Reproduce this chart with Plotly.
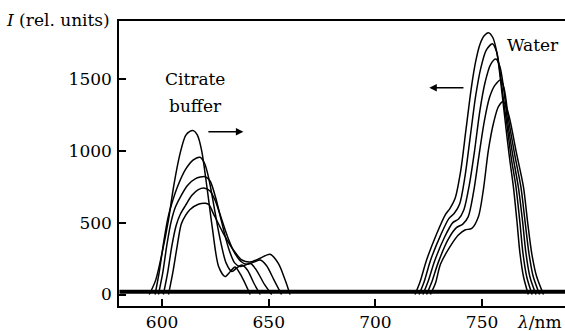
import plotly.graph_objects as go

# ---- Data ----
# Citrate buffer spectra (wavelength nm, intensity rel. units)
cit_a_x = [594, 597, 600, 603, 605.5, 608.5, 611, 613, 614.7, 616.5, 618.5, 621, 623.5, 626.5, 629.5, 632, 634.2, 637.5, 641.3]
cit_a_y = [0, 100, 290, 520, 760, 985, 1105, 1135, 1140, 1110, 1005, 750, 470, 195, 125, 160, 192, 120, 0]

cit_b_x = [596.7, 598.7, 600.7, 602.7, 604.7, 607.5, 611, 614.5, 617.8, 620, 622, 624.5, 627, 630, 632.7, 635, 637.4, 640, 643, 646]
cit_b_y = [0, 160, 360, 530, 640, 760, 870, 935, 955, 910, 800, 600, 400, 220, 160, 185, 205, 170, 80, 0]

cit_c_x = [598.3, 600.3, 602.3, 604.3, 606.3, 609, 612, 615.5, 620.2, 622.5, 625, 628, 631, 634, 636.6, 639, 641.3, 644, 648, 651.4]
cit_c_y = [0, 150, 350, 510, 610, 690, 760, 805, 820, 790, 680, 500, 330, 220, 195, 205, 217, 175, 70, 0]

cit_d_x = [600.6, 602.6, 604.6, 606.6, 608.6, 611, 614, 617, 620, 622.5, 625, 628, 631, 634, 637, 639.7, 643, 646, 649, 652.5, 656]
cit_d_y = [0, 150, 340, 480, 560, 620, 690, 730, 740, 720, 650, 520, 390, 290, 230, 210, 225, 240, 200, 100, 0]

cit_e_x = [603, 605, 607, 609, 611, 613, 617, 620.3, 622, 624, 628.7, 633.4, 637.4, 641.3, 646, 650.6, 654.5, 657.7, 660]
cit_e_y = [0, 150, 330, 490, 550, 590, 628, 635, 625, 565, 426, 310, 240, 226, 252, 280, 217, 101, 0]

# Water spectra
wat_1_x = [718.6, 721, 724, 728.8, 732.7, 735, 737.4, 740, 742.5, 745, 747, 749, 751, 753, 755, 757, 759, 760.8, 762.8, 764.7, 766.3, 767.8, 769.5, 771.7]
wat_1_y = [0, 90, 240, 425, 553, 600, 670, 860, 1150, 1440, 1620, 1740, 1800, 1822, 1790, 1680, 1450, 1214, 960, 750, 520, 286, 120, 0]

wat_2_x = [720.5, 722.9, 725.9, 730.5, 734.5, 737, 739.5, 742, 744.5, 747, 749.5, 752, 754.9, 756.8, 758.6, 760.5, 761.4, 763.6, 765.9, 767.7, 769.2, 771, 773.5]
wat_2_y = [0, 90, 240, 410, 530, 565, 630, 820, 1100, 1380, 1580, 1700, 1745, 1690, 1530, 1300, 1214, 960, 750, 510, 286, 120, 0]

wat_3_x = [722.3, 724.7, 727.7, 732.3, 736.3, 739, 741.5, 744, 746.5, 749, 751.5, 754, 756.5, 758.3, 760, 761.9, 764.4, 767, 769, 770.6, 772.5, 775.3]
wat_3_y = [0, 90, 230, 395, 500, 525, 590, 760, 1000, 1280, 1480, 1600, 1638, 1590, 1450, 1214, 970, 750, 510, 286, 120, 0]

wat_4_x = [724, 726.4, 729.4, 734, 738, 741, 743.5, 746, 748.5, 751, 753.5, 756, 758.8, 760.4, 762.5, 765.3, 768.2, 770.2, 772, 774, 777]
wat_4_y = [0, 85, 220, 380, 465, 490, 540, 710, 960, 1200, 1370, 1455, 1493, 1430, 1214, 975, 750, 505, 286, 125, 0]

wat_5_x = [725.8, 728.2, 730.5, 735, 738.9, 742, 745.2, 748.3, 750.6, 753, 755.5, 757.7, 760, 761.5, 763.1, 766.2, 769.4, 771.4, 773.3, 775.5, 778.8]
wat_5_y = [0, 80, 210, 333, 414, 449, 460, 541, 727, 1006, 1200, 1307, 1342, 1300, 1214, 980, 750, 500, 286, 130, 0]

# Noisy baseline
base_x = [580, 789]
base_y = [20, 20]

x_ticks = [600, 650, 700, 750]
y_ticks = [0, 500, 1000, 1500]

FONT = "DejaVu Serif"
FS = 17

fig = go.Figure()

fig.add_trace(go.Scatter(x=base_x, y=base_y, mode="lines",
                         line=dict(color="black", width=4), hoverinfo="skip"))

curves = [
    (cit_a_x, cit_a_y), (cit_b_x, cit_b_y), (cit_c_x, cit_c_y),
    (cit_d_x, cit_d_y), (cit_e_x, cit_e_y),
    (wat_1_x, wat_1_y), (wat_2_x, wat_2_y), (wat_3_x, wat_3_y),
    (wat_4_x, wat_4_y), (wat_5_x, wat_5_y),
]
for cx, cy in curves:
    fig.add_trace(go.Scatter(x=cx, y=cy, mode="lines",
                             line=dict(color="black", width=1.5, shape="spline", smoothing=0.8)))

fig.update_layout(
    width=565, height=331,
    margin=dict(l=119, r=0, t=21, b=25),
    paper_bgcolor="white", plot_bgcolor="white",
    showlegend=False,
    font=dict(family=FONT, size=FS, color="black"),
)

fig.update_xaxes(
    range=[579.8, 788.9], tickvals=x_ticks, ticktext=[str(v) for v in x_ticks],
    showgrid=False, zeroline=False,
    showline=True, linecolor="black", linewidth=1.5, mirror=True,
    ticks="inside", ticklen=7, tickwidth=1.5, tickcolor="black",
    tickfont=dict(family=FONT, size=FS, color="black"),
)
fig.update_yaxes(
    range=[-80, 1903], tickvals=y_ticks, ticktext=[str(v) for v in y_ticks],
    showgrid=False, zeroline=False,
    showline=True, linecolor="black", linewidth=1.5, mirror=False,
    ticks="inside", ticklen=7, tickwidth=1.5, tickcolor="black",
    ticklabelstandoff=2,
    tickfont=dict(family=FONT, size=FS, color="black"),
)

annos = [
    dict(text="<i>I</i> (rel. units)", xref="paper", yref="paper", x=0, y=1,
         xanchor="right", yanchor="middle", xshift=-7, yshift=1, showarrow=False),
    dict(text="<i>λ</i>/nm", xref="paper", yref="paper", x=1, y=0,
         xanchor="right", yanchor="middle", xshift=-1, yshift=-16, showarrow=False),
    dict(text="Citrate", x=615.5, y=1500, xref="x", yref="y", showarrow=False),
    dict(text="buffer", x=615.5, y=1310, xref="x", yref="y", showarrow=False),
    dict(text="Water", x=774, y=1735, xref="x", yref="y", showarrow=False),
    dict(text="", x=638.1, y=1133, ax=621, ay=1133, xref="x", yref="y",
         axref="x", ayref="y", showarrow=True, arrowhead=2, arrowsize=1,
         arrowwidth=1.5, arrowcolor="black"),
    dict(text="", x=725.3, y=1439, ax=742, ay=1439, xref="x", yref="y",
         axref="x", ayref="y", showarrow=True, arrowhead=2, arrowsize=1,
         arrowwidth=1.5, arrowcolor="black"),
]
for a in annos:
    a.setdefault("font", dict(family=FONT, size=FS, color="black"))
fig.update_layout(annotations=annos)

fig.write_html("out.html")
